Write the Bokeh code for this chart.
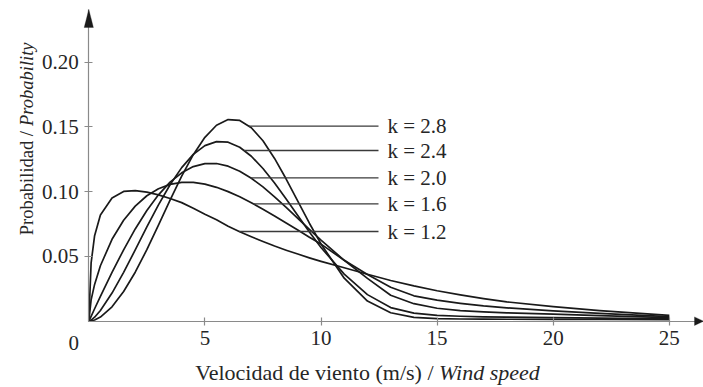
import numpy as np
from bokeh.plotting import figure
from bokeh.models import Range1d, FixedTicker, Label, PolyAnnotation, NumeralTickFormatter
from bokeh.core.properties import value
from bokeh.embed import file_html
from bokeh.resources import INLINE

# ---------------- data ----------------
speed = [0, 0.1, 0.25, 0.5, 1, 1.5, 2, 2.5, 3, 3.5, 4, 4.5, 5, 5.5, 6, 6.5, 7, 7.5,
         8, 8.5, 9, 9.5, 10, 11, 12, 13, 14, 15, 16, 17, 18, 20, 22, 25]

prob_k28 = [0, 0.0002, 0.0009, 0.0032, 0.0111, 0.0229, 0.0378, 0.0552, 0.0741, 0.0935,
            0.1120, 0.1285, 0.1419, 0.1512, 0.1556, 0.1549, 0.1493, 0.1392, 0.1256, 0.1097,
            0.0927, 0.0756, 0.0596, 0.0332, 0.0155, 0.0065, 0.0030, 0.0020, 0.0017, 0.0016,
            0.0015, 0.0014, 0.0013, 0.0012]
prob_k24 = [0, 0.0009, 0.0031, 0.0083, 0.0217, 0.0377, 0.0550, 0.0727, 0.0898, 0.1053,
            0.1185, 0.1287, 0.1355, 0.1386, 0.1381, 0.1342, 0.1273, 0.1178, 0.1066, 0.0943,
            0.0815, 0.0689, 0.0569, 0.0363, 0.0205, 0.0105, 0.0062, 0.0045, 0.0038, 0.0034,
            0.0031, 0.0027, 0.0023, 0.0019]
prob_k20 = [0, 0.0038, 0.0096, 0.0191, 0.0376, 0.0551, 0.0712, 0.0854, 0.0975, 0.1073,
            0.1145, 0.1193, 0.1216, 0.1217, 0.1196, 0.1157, 0.1103, 0.1036, 0.0960, 0.0879,
            0.0794, 0.0709, 0.0625, 0.0470, 0.0330, 0.0200, 0.0135, 0.0100, 0.0082, 0.0072,
            0.0065, 0.0054, 0.0043, 0.0028]
prob_k16 = [0, 0.0165, 0.0284, 0.0428, 0.0632, 0.0779, 0.0888, 0.0968, 0.1022, 0.1056,
            0.1071, 0.1071, 0.1058, 0.1033, 0.1000, 0.0960, 0.0914, 0.0864, 0.0812, 0.0757,
            0.0703, 0.0648, 0.0595, 0.0470, 0.0360, 0.0262, 0.0196, 0.0162, 0.0138, 0.0118,
            0.0103, 0.0080, 0.0060, 0.0036]
prob_k12 = [0, 0.045, 0.066, 0.082, 0.095, 0.1001, 0.1007, 0.0996, 0.0975, 0.0947,
            0.0915, 0.0872, 0.0825, 0.0782, 0.0733, 0.0690, 0.0652, 0.0615, 0.0580, 0.0548,
            0.0518, 0.0489, 0.0462, 0.0412, 0.0362, 0.0314, 0.0272, 0.0235, 0.0203, 0.0174,
            0.0149, 0.0112, 0.0082, 0.0045]

k_labels = ["k = 2.8", "k = 2.4", "k = 2.0", "k = 1.6", "k = 1.2"]
series = [prob_k28, prob_k24, prob_k20, prob_k16, prob_k12]
label_levels = [0.1505, 0.1317, 0.1106, 0.0906, 0.0692]

x_ticks = [5, 10, 15, 20, 25]
y_ticks = [0.05, 0.10, 0.15, 0.20]

x_title = "Velocidad de viento (m/s) /"
x_title_it = "Wind speed"
y_title = "Probabilidad /"
y_title_it = "Probability"

# ---------------- layout / style ----------------
W, H = 703, 387
OX, OY = 88.3, 320.7          # pixel position of the origin
PX_X = 23.22                  # pixels per m/s
PX_Y = 1296.0                 # pixels per unit probability
X0, X1 = -OX / PX_X, (W - OX) / PX_X
Y0, Y1 = -(H - OY) / PX_Y, OY / PX_Y
Y_TOP = (OY - 9) / PX_Y       # top of the y-axis arrow
FONT = "Liberation Serif"
TXT = "#262626"
AX = "#8a8a8a"
INK = "#1a1a1a"

p = figure(width=W, height=H, x_range=Range1d(X0, X1), y_range=Range1d(Y0, Y1),
           output_backend="svg", toolbar_location=None, min_border=0)
p.outline_line_color = None
p.grid.visible = False
p.background_fill_color = "white"
p.border_fill_color = "white"

p.xaxis.ticker = FixedTicker(ticks=x_ticks)
p.yaxis.ticker = FixedTicker(ticks=y_ticks)
p.yaxis.formatter = NumeralTickFormatter(format="0.00")
p.xaxis.fixed_location = 0
p.yaxis.fixed_location = 0
p.xaxis.bounds = (0, X1)
p.yaxis.bounds = (0, Y_TOP)
for ax in (p.xaxis[0], p.yaxis[0]):
    ax.axis_line_color = AX
    ax.axis_line_width = 1.2
    ax.major_tick_line_color = AX
    ax.major_tick_line_width = 1.2
    ax.major_tick_in = 4
    ax.major_tick_out = 4
    ax.minor_tick_line_color = None
    ax.major_label_text_font = FONT
    ax.major_label_text_font_size = "21px"
    ax.major_label_text_color = TXT
    ax.major_label_standoff = 6

# curves
for ys in series:
    p.line(speed, ys, line_color=INK, line_width=1.7, line_join="round")

# leader lines from the descending side of each curve to the labels
xs_arr = np.array(speed, dtype=float)
lead_start = []
for ys, lv in zip(series, label_levels):
    ya = np.array(ys, dtype=float)
    i = int(np.argmax(ya))
    xd, yd = xs_arr[i:], ya[i:]
    lead_start.append(float(np.interp(lv, yd[::-1], xd[::-1])))
LEAD_END = (378 - OX) / PX_X
LABEL_X = (387 - OX) / PX_X
p.segment(x0=lead_start, y0=label_levels, x1=[LEAD_END] * 5, y1=label_levels,
          line_color="#3a3a3a", line_width=1.3)
p.text(x=[LABEL_X] * 5, y=label_levels, text=k_labels, text_font=value(FONT),
       text_font_size="21px", text_color=TXT, text_baseline="middle", text_align="left")

# axis arrow heads
p.add_layout(PolyAnnotation(xs=[-4.6 / PX_X, 0, 4.6 / PX_X],
                            ys=[Y_TOP - 18 / PX_Y, Y_TOP, Y_TOP - 18 / PX_Y],
                            fill_color=INK, fill_alpha=1, line_color=INK, line_width=1))
p.add_layout(PolyAnnotation(xs=[X1 - 9 / PX_X, X1, X1 - 9 / PX_X],
                            ys=[4.3 / PX_Y, 0, -4.3 / PX_Y],
                            fill_color=INK, fill_alpha=1, line_color=INK, line_width=1))

# origin "0"
p.add_layout(Label(x=0, y=0, x_offset=-15, y_offset=-22, text="0", text_font=FONT,
                   text_font_size="21px", text_color=TXT, text_align="center",
                   text_baseline="middle"))

# x title (roman + italic)
X_SPLIT = (433 - OX) / PX_X
p.add_layout(Label(x=X_SPLIT, y=0, y_offset=-51, text=x_title, text_font=FONT,
                   text_font_size="22px", text_color=TXT, text_align="right",
                   text_baseline="middle"))
p.add_layout(Label(x=X_SPLIT, y=0, x_offset=5.5, y_offset=-51, text=x_title_it, text_font=FONT,
                   text_font_size="22px", text_font_style="italic", text_color=TXT,
                   text_align="left", text_baseline="middle"))

# y title (roman + italic), rotated
Y_SPLIT = (OY - 130.5) / PX_Y
p.add_layout(Label(x=0, y=Y_SPLIT, x_offset=-62, angle=np.pi / 2, text=y_title, text_font=FONT,
                   text_font_size="18.5px", text_color=TXT, text_align="right",
                   text_baseline="middle"))
p.add_layout(Label(x=0, y=Y_SPLIT, x_offset=-62, y_offset=5, angle=np.pi / 2, text=y_title_it,
                   text_font=FONT, text_font_size="18.5px", text_font_style="italic",
                   text_color=TXT, text_align="left", text_baseline="middle"))

open("out.html", "w").write(file_html(p, INLINE))
